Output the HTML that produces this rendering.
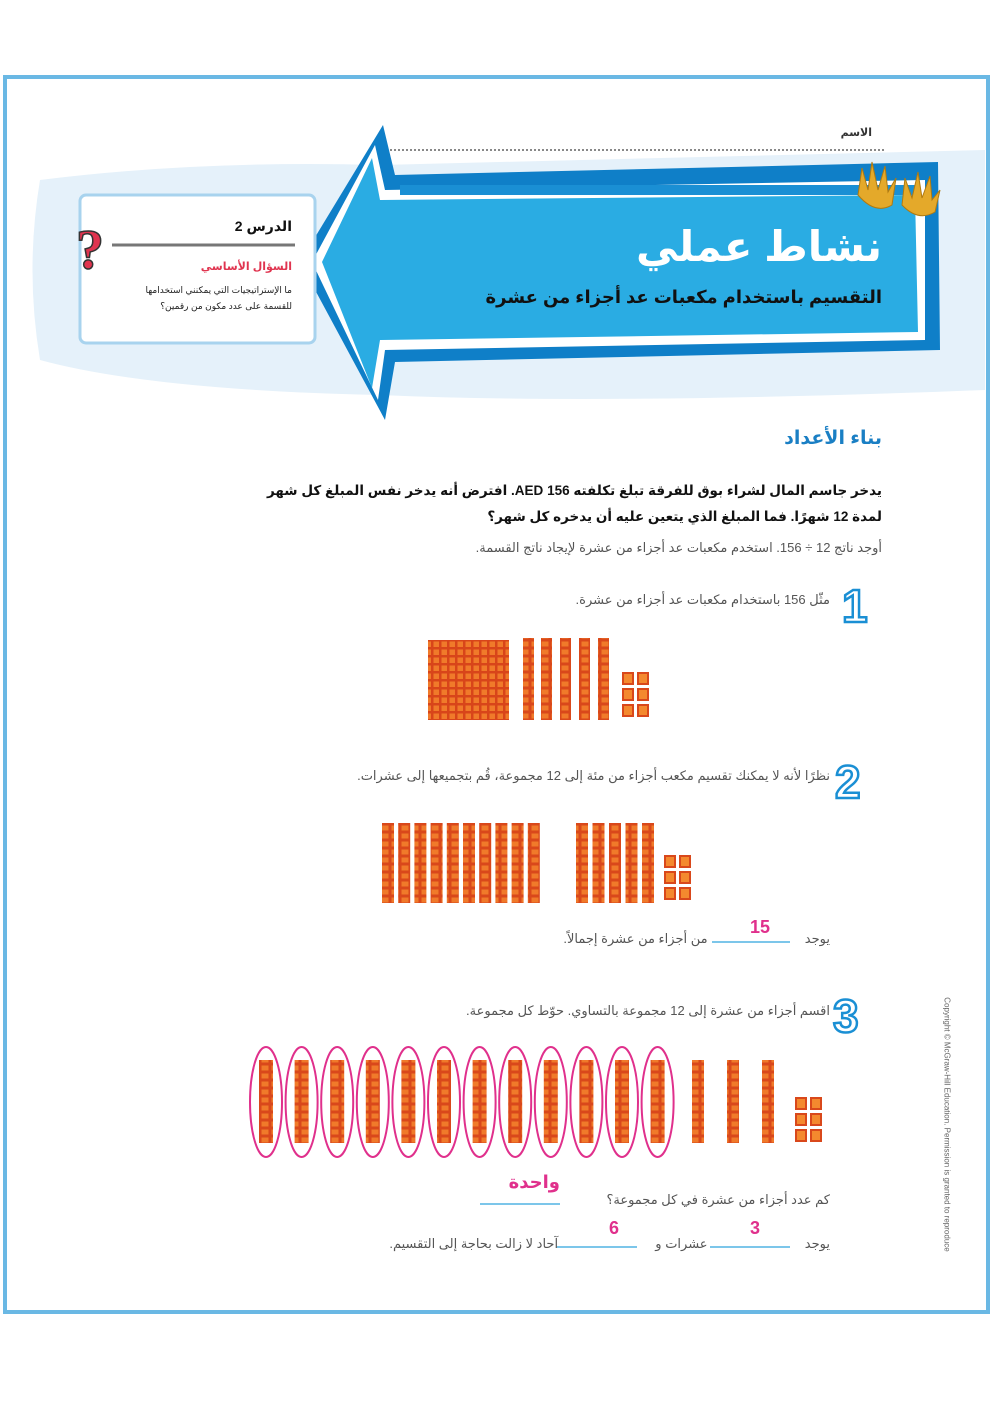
<!DOCTYPE html>
<html><head><meta charset="utf-8"><style>
body{margin:0;width:992px;height:1403px;background:#fff;position:relative;overflow:hidden;font-family:"Liberation Sans","DejaVu Sans",sans-serif;}
.t{position:absolute;direction:rtl;white-space:nowrap;color:#333;}
svg{position:absolute;left:0;top:0}
</style></head><body>
<svg width="992" height="1403" id="s">
<defs>
<pattern id="cube" width="10" height="8" patternUnits="userSpaceOnUse"><rect width="10" height="8" fill="#d9481b"/><rect x="1.5" y="1.5" width="7" height="5" fill="#f07a2a"/></pattern>
<pattern id="hund" width="8" height="8" patternUnits="userSpaceOnUse"><rect width="8" height="8" fill="#d8451a"/><rect x="1.5" y="1.5" width="5.5" height="5.5" fill="#f07a2a"/></pattern>
</defs>
<rect x="5" y="77" width="983" height="1235" fill="none" stroke="#6ab8e4" stroke-width="4"/>
<path d="M40 180 Q200 160 380 165 L985 150 L985 390 Q600 405 380 395 Q150 390 40 360 Q25 270 40 180Z" fill="#e5f1fa"/>
<path d="M383 125 L395 175 L938 162 L940 350 L395 362 L385 420 L300 262Z" fill="#0f7fc8"/>
<path d="M375 145 L385 190 L925 180 L925 340 L385 350 L378 400 L312 262Z" fill="#fff"/>
<path d="M372 158 L380 200 L915 195 L918 332 L380 340 L372 388 L322 262Z" fill="#2aace3"/>
<rect x="400" y="185" width="515" height="10" fill="#1a8fd4"/>
<line x1="390" y1="150" x2="885" y2="150" stroke="#888" stroke-width="2" stroke-dasharray="2,2"/>
<g fill="#e4a92a" stroke="#b07a10" stroke-width="1">
<path d="M858 195 L862 168 L868 190 L872 162 L878 190 L885 166 L888 192 L896 178 L892 205 Q875 215 858 195Z"/>
<path d="M902 205 L905 178 L912 198 L918 172 L922 198 L930 176 L932 200 L940 190 L935 212 Q918 222 902 205Z"/>
</g>
<rect x="80" y="195" width="235" height="148" rx="6" fill="#fff" stroke="#a8d3ee" stroke-width="3"/>
<line x1="112" y1="245" x2="295" y2="245" stroke="#777" stroke-width="3"/>
<text x="76" y="268" font-size="56" font-weight="bold" fill="#e0344f" stroke="#333" stroke-width="1.5" font-family="Liberation Serif">?</text>
<text x="842" y="622" font-size="46" font-weight="bold" fill="#fff" stroke="#1a8fd4" stroke-width="2.5">1</text>
<text x="835" y="798" font-size="46" font-weight="bold" fill="#fff" stroke="#1a8fd4" stroke-width="2.5">2</text>
<text x="833" y="1032" font-size="46" font-weight="bold" fill="#fff" stroke="#1a8fd4" stroke-width="2.5">3</text>
<rect x="428" y="640" width="81" height="80" fill="url(#hund)"/>
<g id="g"></g>
<line x1="712" y1="942" x2="790" y2="942" stroke="#7cc6ea" stroke-width="2"/>
<line x1="480" y1="1204" x2="560" y2="1204" stroke="#7cc6ea" stroke-width="2"/>
<line x1="710" y1="1247" x2="790" y2="1247" stroke="#7cc6ea" stroke-width="2"/>
<line x1="557" y1="1247" x2="637" y2="1247" stroke="#7cc6ea" stroke-width="2"/>
</svg>
<script>
var g=document.getElementById('g'),h='';
function rod(x,y,w,hh){h+='<rect x="'+x+'" y="'+y+'" width="'+w+'" height="'+hh+'" fill="url(#cube)"/>';}
function ones(x,y){for(var r=0;r<3;r++)for(var c=0;c<2;c++)h+='<rect x="'+(x+c*15)+'" y="'+(y+r*16)+'" width="12" height="13" fill="#d9481b"/><rect x="'+(x+c*15+2)+'" y="'+(y+r*16+2)+'" width="8" height="9" fill="#f4892e"/>';}
[523,541,560,579,598].forEach(function(x){rod(x,638,11,82)});ones(622,672);
for(var i=0;i<10;i++)rod(382+i*16.2,823,12,80);
for(i=0;i<5;i++)rod(576+i*16.5,823,12,80);ones(664,855);
for(i=0;i<12;i++){var cx=266+i*35.6;h+='<ellipse cx="'+cx+'" cy="1102" rx="16" ry="55" fill="none" stroke="#e0308c" stroke-width="2"/>';rod(cx-7,1060,14,83);}
[692,727,762].forEach(function(x){rod(x,1060,12,83)});ones(795,1097);
g.innerHTML=h;
</script>
<div class="t" style="right:120px;top:126px;font-size:11px;font-weight:bold">الاسم</div>
<div class="t" style="right:110px;top:222px;font-size:42px;font-weight:bold;color:#fff">نشاط عملي</div>
<div class="t" style="right:110px;top:287px;font-size:18px;font-weight:bold;color:#111">التقسيم باستخدام مكعبات عد أجزاء من عشرة</div>
<div class="t" style="right:700px;top:218px;font-size:14px;font-weight:bold;color:#111">الدرس 2</div>
<div class="t" style="right:700px;top:260px;font-size:11px;font-weight:bold;color:#e0344f">السؤال الأساسي</div>
<div class="t" style="right:700px;top:282px;font-size:9px;line-height:16px;color:#222">ما الإستراتيجيات التي يمكنني استخدامها<br>للقسمة على عدد مكون من رقمين؟</div>
<div class="t" style="right:110px;top:427px;font-size:19px;font-weight:bold;color:#1a7fc4">بناء الأعداد</div>
<div class="t" style="right:110px;top:478px;font-size:13.5px;font-weight:bold;line-height:26px;color:#111">يدخر جاسم المال لشراء بوق للفرقة تبلغ تكلفته 156 AED. افترض أنه يدخر نفس المبلغ كل شهر<br>لمدة 12 شهرًا. فما المبلغ الذي يتعين عليه أن يدخره كل شهر؟</div>
<div class="t" style="right:110px;top:540px;font-size:13px;color:#555">أوجد ناتج 12 ÷ 156. استخدم مكعبات عد أجزاء من عشرة لإيجاد ناتج القسمة.</div>
<div class="t" style="right:162px;top:592px;font-size:13px;color:#555">مثّل 156 باستخدام مكعبات عد أجزاء من عشرة.</div>
<div class="t" style="right:162px;top:768px;font-size:13px;color:#555">نظرًا لأنه لا يمكنك تقسيم مكعب أجزاء من مئة إلى 12 مجموعة، قُم بتجميعها إلى عشرات.</div>
<div class="t" style="right:162px;top:931px;font-size:13px;color:#555">يوجد <span style="display:inline-block;width:90px"></span> من أجزاء من عشرة إجمالاً.</div>
<div class="t" style="right:222px;top:917px;font-size:18px;font-weight:bold;color:#e0308c">15</div>
<div class="t" style="right:162px;top:1003px;font-size:13px;color:#555">اقسم أجزاء من عشرة إلى 12 مجموعة بالتساوي. حوّط كل مجموعة.</div>
<div class="t" style="right:162px;top:1192px;font-size:13px;color:#555">كم عدد أجزاء من عشرة في كل مجموعة؟</div>
<div class="t" style="right:432px;top:1172px;font-size:18px;font-weight:bold;color:#e0308c">واحدة</div>
<div class="t" style="right:162px;top:1236px;font-size:13px;color:#555">يوجد <span style="display:inline-block;width:90px"></span> عشرات و <span style="display:inline-block;width:90px"></span> آحاد لا زالت بحاجة إلى التقسيم.</div>
<div class="t" style="right:232px;top:1218px;font-size:18px;font-weight:bold;color:#e0308c">3</div>
<div class="t" style="right:373px;top:1218px;font-size:18px;font-weight:bold;color:#e0308c">6</div>
<div class="t" style="left:820px;top:1120px;font-size:8px;color:#666;transform:rotate(90deg);direction:ltr">Copyright © McGraw-Hill Education. Permission is granted to reproduce</div>
</body></html>
